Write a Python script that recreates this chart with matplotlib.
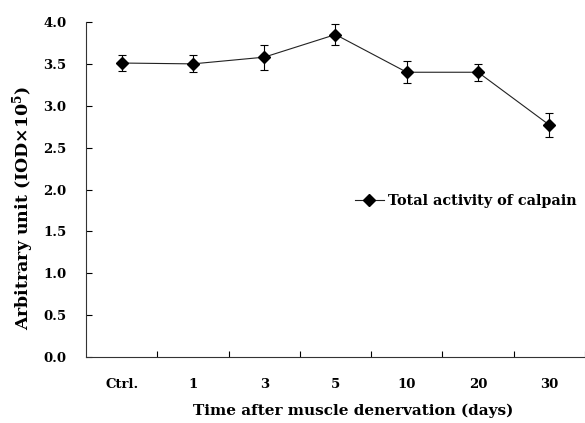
import matplotlib.pyplot as plt
import numpy as np

plt.rcParams["font.family"] = ["DejaVu Serif"]
plt.rcParams["font.weight"] = "bold"
plt.rcParams["mathtext.fontset"] = "dejavuserif"

categories = ["Ctrl.", "1", "3", "5", "10", "20", "30"]
activity = [3.51, 3.50, 3.58, 3.85, 3.40, 3.40, 2.77]
errors = [0.10, 0.10, 0.15, 0.13, 0.13, 0.10, 0.14]
yticks = [0.0, 0.5, 1.0, 1.5, 2.0, 2.5, 3.0, 3.5, 4.0]

fig = plt.figure(figsize=(5.85, 4.23), dpi=100)
ax = fig.add_axes([0.147, 0.156, 0.853, 0.792])

x = np.arange(len(categories))
ax.errorbar(x, activity, yerr=errors, fmt="none", ecolor="black",
            elinewidth=0.8, capsize=3, capthick=0.8)
ax.plot(x, activity, color="#222222", lw=0.8, marker="D", ms=6.5,
        mfc="black", mec="black", label="Total activity of calpain")

ax.set_xlim(-0.5, len(categories) - 0.5)
ax.set_ylim(0, 4.0)
ax.set_yticks(yticks)
ax.set_yticklabels([f"{v:.1f}" for v in yticks], fontsize=9.5)
ax.set_xticks(x + 0.5, minor=False)
ax.set_xticklabels([])
ax.set_xticks(x, minor=True)
ax.set_xticklabels(categories, minor=True, fontsize=9.5)
ax.tick_params(axis="x", which="major", direction="in", length=4, width=0.8)
ax.tick_params(axis="x", which="minor", length=0, pad=15)
ax.tick_params(axis="y", direction="in", length=4, width=0.8, pad=14)

for side in ["top", "right"]:
    ax.spines[side].set_visible(False)
for side in ["left", "bottom"]:
    ax.spines[side].set_linewidth(0.8)
    ax.spines[side].set_color("#333333")

ax.set_xlabel("Time after muscle denervation (days)", fontsize=11,
              fontweight="bold", labelpad=9)
ax.xaxis.label.set_x(0.535)
ax.set_ylabel(r"Arbitrary unit (IOD×10$^{\mathbf{5}}$)", fontsize=12.5,
              fontweight="bold", labelpad=5)
ax.yaxis.label.set_y(0.446)

ax.legend(loc="center left", bbox_to_anchor=(0.513, 0.465), frameon=False,
          fontsize=10.4, handlelength=2.0, handletextpad=0.3)

fig.savefig("out.png", dpi=100)
